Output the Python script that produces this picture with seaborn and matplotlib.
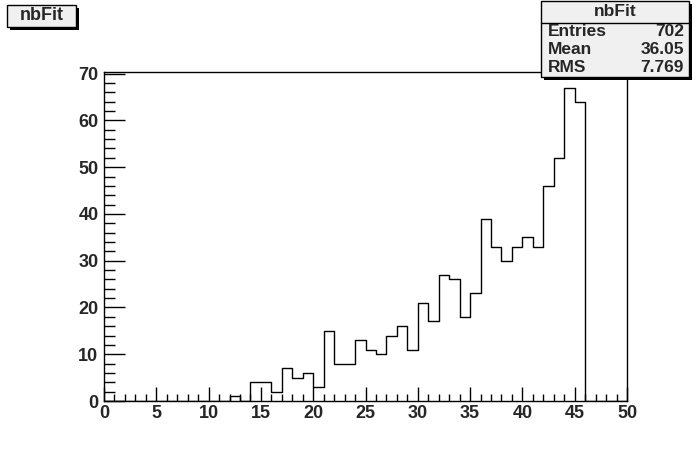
import numpy as np
import pandas as pd
import seaborn as sns
import matplotlib.pyplot as plt
from matplotlib.patches import Rectangle
from matplotlib.ticker import MultipleLocator

# bin contents of nbFit, bins of width 1 from 0 to 50
bin_low = list(range(0, 50))
counts = [0] * 12 + [1, 0, 4, 4, 2, 7, 5, 6, 3, 15, 8, 8, 13, 11, 10, 14, 16, 11,
                     21, 17, 27, 26, 18, 23, 39, 33, 30, 33, 35, 33, 46, 52, 67, 64,
                     0, 0, 0, 0]
stats_labels = ["Entries", "Mean", "RMS"]
stats_values = ["702", "36.05", "7.769"]

df = pd.DataFrame({"nbFit": np.array(bin_low) + 0.5, "w": counts})

sns.set_style("white")
plt.rcParams['font.family'] = ['Liberation Sans', 'DejaVu Sans']

W, H = 696, 472
fig = plt.figure(figsize=(W / 100, H / 100), dpi=100)
ax = fig.add_axes([104 / W, 1 - 401 / H, 523 / W, 329 / H])

sns.histplot(data=df, x="nbFit", weights="w", binwidth=1, binrange=(0, 50),
             element="step", fill=False, color="black", linewidth=1.0, ax=ax)

ax.set_xlim(0, 50)
ax.set_ylim(0, 70.35)
ax.set_xlabel("")
ax.set_ylabel("")
for s in ax.spines.values():
    s.set_color("black")
    s.set_linewidth(1.0)

ax.xaxis.set_major_locator(MultipleLocator(5))
ax.xaxis.set_minor_locator(MultipleLocator(1))
ax.yaxis.set_major_locator(MultipleLocator(10))
ax.yaxis.set_minor_locator(MultipleLocator(2))
ax.tick_params(axis="both", which="both", direction="in", top=False, right=False,
               bottom=True, left=True, color="black", width=1)
ax.tick_params(axis="x", which="major", length=10, pad=3)
ax.tick_params(axis="x", which="minor", length=5)
ax.tick_params(axis="y", which="major", length=15, pad=4)
ax.tick_params(axis="y", which="minor", length=8)
for lab in ax.get_xticklabels() + ax.get_yticklabels():
    lab.set_fontsize(13)
    lab.set_fontweight("bold")


def box(x0, y0, x1, y1):
    # grey pave with a black drop shadow, pixel coords from the top left
    fig.patches.append(Rectangle(((x0 + 3) / W, 1 - (y1 + 3) / H), (x1 - x0) / W,
                                 (y1 - y0) / H, transform=fig.transFigure,
                                 facecolor="black", lw=0))
    fig.patches.append(Rectangle((x0 / W, 1 - y1 / H), (x1 - x0) / W, (y1 - y0) / H,
                                 transform=fig.transFigure, facecolor="#f0f0f0",
                                 edgecolor="black", lw=1))


# title box top-left
box(7, 5, 76, 27)
fig.text(41.5 / W, 1 - 16 / H, "nbFit", ha="center", va="center",
         fontsize=13, fontweight="bold")

# stats box top-right
x0, x1, y0, y1 = 541, 689, 1, 77
box(x0, y0, x1, y1)
fig.text((x0 + x1) / 2 / W, 1 - 12 / H, "nbFit", ha="center",
         va="center", fontsize=12.5, fontweight="bold")
fig.add_artist(plt.Line2D([x0 / W, x1 / W], [1 - 23 / H] * 2,
                          transform=fig.transFigure, color="black", lw=1))
for yc, lab, val in zip([32, 50, 68], stats_labels, stats_values):
    fig.text((x0 + 7) / W, 1 - yc / H, lab, ha="left", va="center", fontsize=12.5,
             fontweight="bold")
    fig.text((x1 - 5) / W, 1 - yc / H, val, ha="right", va="center", fontsize=12.5,
             fontweight="bold")

fig.savefig("out.png", dpi=100, facecolor="white")
